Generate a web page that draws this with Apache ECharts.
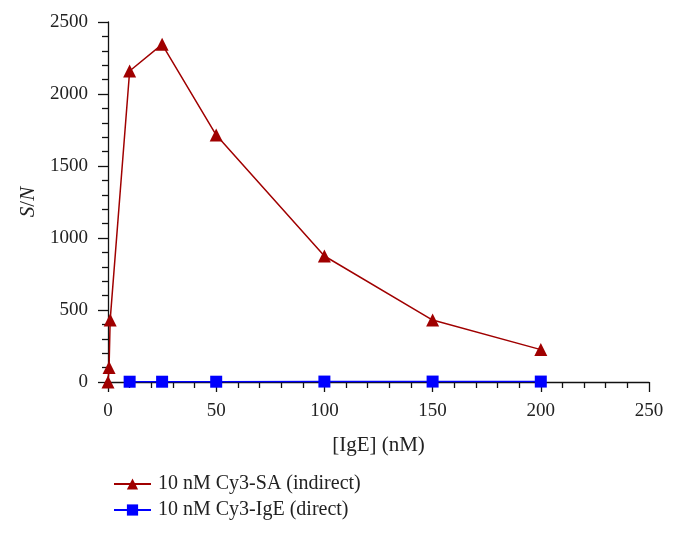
<!DOCTYPE html>
<html><head><meta charset="utf-8">
<script src="https://cdn.jsdelivr.net/npm/echarts@6/dist/echarts.min.js"></script>
<style>html,body{margin:0;padding:0;background:#fff}#c{width:678px;height:533px}</style>
</head><body><div id="c"></div>
<script>
const indirectX = [0, 0.5, 1, 10, 25, 50, 100, 150, 200];
const indirectY = [0, 100, 430, 2160, 2345, 1715, 875, 430, 225];
const directX = [10, 25, 50, 100, 150, 200];
const directY = [2, 2, 2, 3, 3, 3];
const seriesNames = ['10 nM Cy3-SA (indirect)', '10 nM Cy3-IgE (direct)'];
const xTicks = [0, 50, 100, 150, 200, 250];
const yTicks = [0, 500, 1000, 1500, 2000, 2500];

const font = '"Liberation Serif", "DejaVu Serif", serif';
const chart = echarts.init(document.getElementById('c'));
const pair = (xs, ys) => xs.map((x, i) => [x, ys[i]]);
chart.setOption({
  animation: false,
  textStyle: { fontFamily: font },
  grid: { left: 108, top: 22, right: 29, bottom: 151 },
  legend: {
    orient: 'vertical', left: 108, top: 469, itemGap: 6,
    itemWidth: 37, itemHeight: 14,
    data: seriesNames,
    textStyle: { fontFamily: font, fontSize: 20, color: '#222', padding: [0, 0, 0, 2] }
  },
  xAxis: {
    type: 'value', min: xTicks[0], max: xTicks[xTicks.length - 1], interval: 50,
    name: '[IgE] (nM)', nameLocation: 'middle', nameGap: 53,
    nameTextStyle: { fontFamily: font, fontSize: 21, color: '#222' },
    axisLine: { lineStyle: { color: '#111', width: 1.3 } },
    axisTick: { length: 10, lineStyle: { color: '#111', width: 1.3 } },
    minorTick: { show: true, splitNumber: 5, length: 6, lineStyle: { color: '#111', width: 1.3 } },
    splitLine: { show: false },
    axisLabel: { margin: 20, fontSize: 19, color: '#222', fontFamily: font, formatter: v => String(v) }
  },
  yAxis: {
    type: 'value', min: yTicks[0], max: yTicks[yTicks.length - 1], interval: 500,
    name: '{i|S}/{i|N}', nameLocation: 'middle', nameGap: 68, nameRotate: 90,
    nameTextStyle: { fontFamily: font, fontSize: 21, color: '#222',
      rich: { i: { fontStyle: 'italic', fontFamily: font, fontSize: 21, color: '#222' } } },
    axisLine: { show: true, lineStyle: { color: '#111', width: 1.3 } },
    axisTick: { show: true, length: 10, lineStyle: { color: '#111', width: 1.3 } },
    minorTick: { show: true, splitNumber: 5, length: 6, lineStyle: { color: '#111', width: 1.3 } },
    splitLine: { show: false },
    axisLabel: { margin: 20, fontSize: 19, color: '#222', fontFamily: font, formatter: v => String(v) }
  },
  series: [
    {
      name: seriesNames[0], type: 'line', z: 3,
      data: pair(indirectX, indirectY),
      symbol: 'triangle', symbolSize: 13,
      itemStyle: { color: '#a00000' },
      lineStyle: { color: '#a00000', width: 1.5 }
    },
    {
      name: seriesNames[1], type: 'line', z: 2,
      data: pair(directX, directY),
      symbol: 'rect', symbolSize: 12,
      itemStyle: { color: '#0000ff' },
      lineStyle: { color: '#0000ff', width: 1.5 }
    }
  ]
});
</script></body></html>
